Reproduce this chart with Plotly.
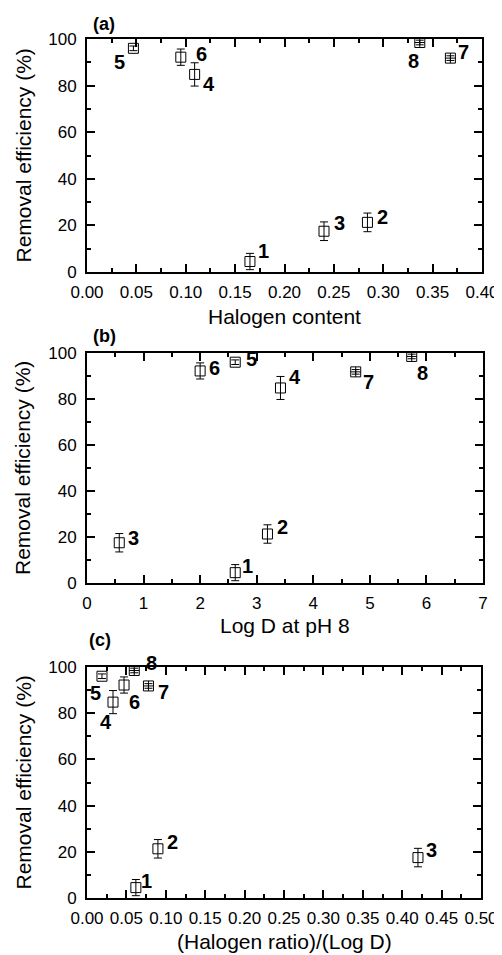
import plotly.graph_objects as go

# ---------------- data ----------------
compound_labels = ["1", "2", "3", "4", "5", "6", "7", "8"]
removal_efficiency = [4.5, 21.3, 17.5, 84.8, 96.0, 92.2, 91.8, 98.5]
removal_error = [3.5, 4.0, 4.0, 5.0, 1.0, 3.5, 1.0, 1.0]
halogen_content = [0.165, 0.284, 0.240, 0.109, 0.047, 0.095, 0.368, 0.337]
log_d_ph8 = [2.62, 3.19, 0.57, 3.42, 2.62, 2.00, 4.75, 5.74]
halogen_ratio_over_logd = [0.062, 0.090, 0.420, 0.033, 0.019, 0.047, 0.078, 0.060]

panel_titles = ["(a)", "(b)", "(c)"]
x_titles = ["Halogen content", "Log D at pH 8", "(Halogen ratio)/(Log D)"]
y_title = "Removal efficiency (%)"

# ---------------- styling / layout (not data) ----------------
PAGE_OFF = 8                      # browser body margin
W, H = 502 - PAGE_OFF, 955 - PAGE_OFF
FONT = "Arial, Liberation Sans, sans-serif"
symbols = ["square-open"] * 6 + ["square-cross-open"] * 2

# plot areas in screen pixels: (left, right, top, bottom)
areas = [(87, 482, 39, 272), (87, 483, 353, 583), (87, 481, 667, 898)]
x_ranges = [(0, 0.40), (0, 7), (0, 0.50)]
x_dticks = [0.05, 1, 0.05]
x_minor = [0.025, 0.5, 0.025]
x_formats = [".2f", "d", ".2f"]

# label pixel offsets (dx right, dy down) per panel
label_offsets = [
    [(14, -11), (15, -5), (15, -8), (14, 10), (-14, 14), (21, -3), (13, -6), (-6, 19)],
    [(12, -7), (15, -7), (14, -5), (15, -11), (16, -3), (14, -3), (13, 10), (11, 17)],
    [(11, -7), (15, -7), (14, -8), (-7, 20), (-6, 17), (10, 17), (15, 6), (17, -7)],
]
x_title_y = [316, 625, 941]
panel_label_pos = [(104, 24), (104, 336), (100, 640)]
y_title_x = 23


def px_x(p):
    return (p - PAGE_OFF) / W


def px_y(p):
    return 1 - (p - PAGE_OFF) / H


xs_all = [halogen_content, log_d_ph8, halogen_ratio_over_logd]

fig = go.Figure()
annotations = []

for i in range(3):
    left, right, top, bottom = areas[i]
    sfx = "" if i == 0 else str(i + 1)
    xa, ya = "x" + sfx, "y" + sfx
    fig.add_trace(go.Scatter(
        x=xs_all[i], y=removal_efficiency,
        mode="markers",
        marker=dict(symbol=symbols, size=10, color="black",
                    line=dict(color="black", width=1)),
        error_y=dict(type="data", array=removal_error, visible=True,
                     color="black", thickness=1, width=4),
        xaxis=xa, yaxis=ya, showlegend=False, hoverinfo="x+y",
    ))
    axis_common = dict(
        showline=True, linecolor="black", linewidth=2, mirror="ticks",
        ticks="inside", ticklen=8, tickwidth=2, tickcolor="black",
        showgrid=False, zeroline=False, automargin=False,
        tickfont=dict(family=FONT, size=17, color="black"),
    )
    fig.layout["xaxis" + sfx] = dict(
        axis_common,
        domain=[px_x(left), px_x(right)], anchor=ya,
        range=list(x_ranges[i]), dtick=x_dticks[i], tick0=0,
        tickformat=x_formats[i], ticklabelstandoff=4,
        minor=dict(ticks="inside", ticklen=4, tickwidth=2, tickcolor="black",
                   dtick=x_minor[i], tick0=0),
    )
    fig.layout["yaxis" + sfx] = dict(
        axis_common,
        domain=[px_y(bottom), px_y(top)], anchor=xa,
        range=[0, 100], dtick=20, tick0=0, ticklabelstandoff=5,
        minor=dict(ticks="inside", ticklen=4, tickwidth=2, tickcolor="black",
                   dtick=10, tick0=0),
    )
    # point labels
    for j, lab in enumerate(compound_labels):
        dx, dy = label_offsets[i][j]
        annotations.append(dict(
            x=xs_all[i][j], y=removal_efficiency[j], xref=xa, yref=ya,
            text="<b>%s</b>" % lab, showarrow=False, xshift=dx, yshift=-dy,
            font=dict(family=FONT, size=20, color="black"),
        ))
    # x title
    annotations.append(dict(
        x=px_x((left + right) / 2), y=px_y(x_title_y[i]), xref="paper", yref="paper",
        text=x_titles[i], showarrow=False, xanchor="center", yanchor="middle",
        font=dict(family=FONT, size=21, color="black"),
    ))
    # y title
    annotations.append(dict(
        x=px_x(y_title_x), y=px_y((top + bottom) / 2), xref="paper", yref="paper",
        text=y_title, showarrow=False, textangle=-90, xanchor="center", yanchor="middle",
        font=dict(family=FONT, size=21, color="black"),
    ))
    # panel label
    lx, ly = panel_label_pos[i]
    annotations.append(dict(
        x=px_x(lx), y=px_y(ly), xref="paper", yref="paper",
        text="<b>%s</b>" % panel_titles[i], showarrow=False,
        xanchor="center", yanchor="middle",
        font=dict(family=FONT, size=18, color="black"),
    ))

fig.update_layout(
    width=W, height=H, margin=dict(l=0, r=0, t=0, b=0),
    paper_bgcolor="white", plot_bgcolor="white",
    annotations=annotations,
)

fig.write_html("out.html")
